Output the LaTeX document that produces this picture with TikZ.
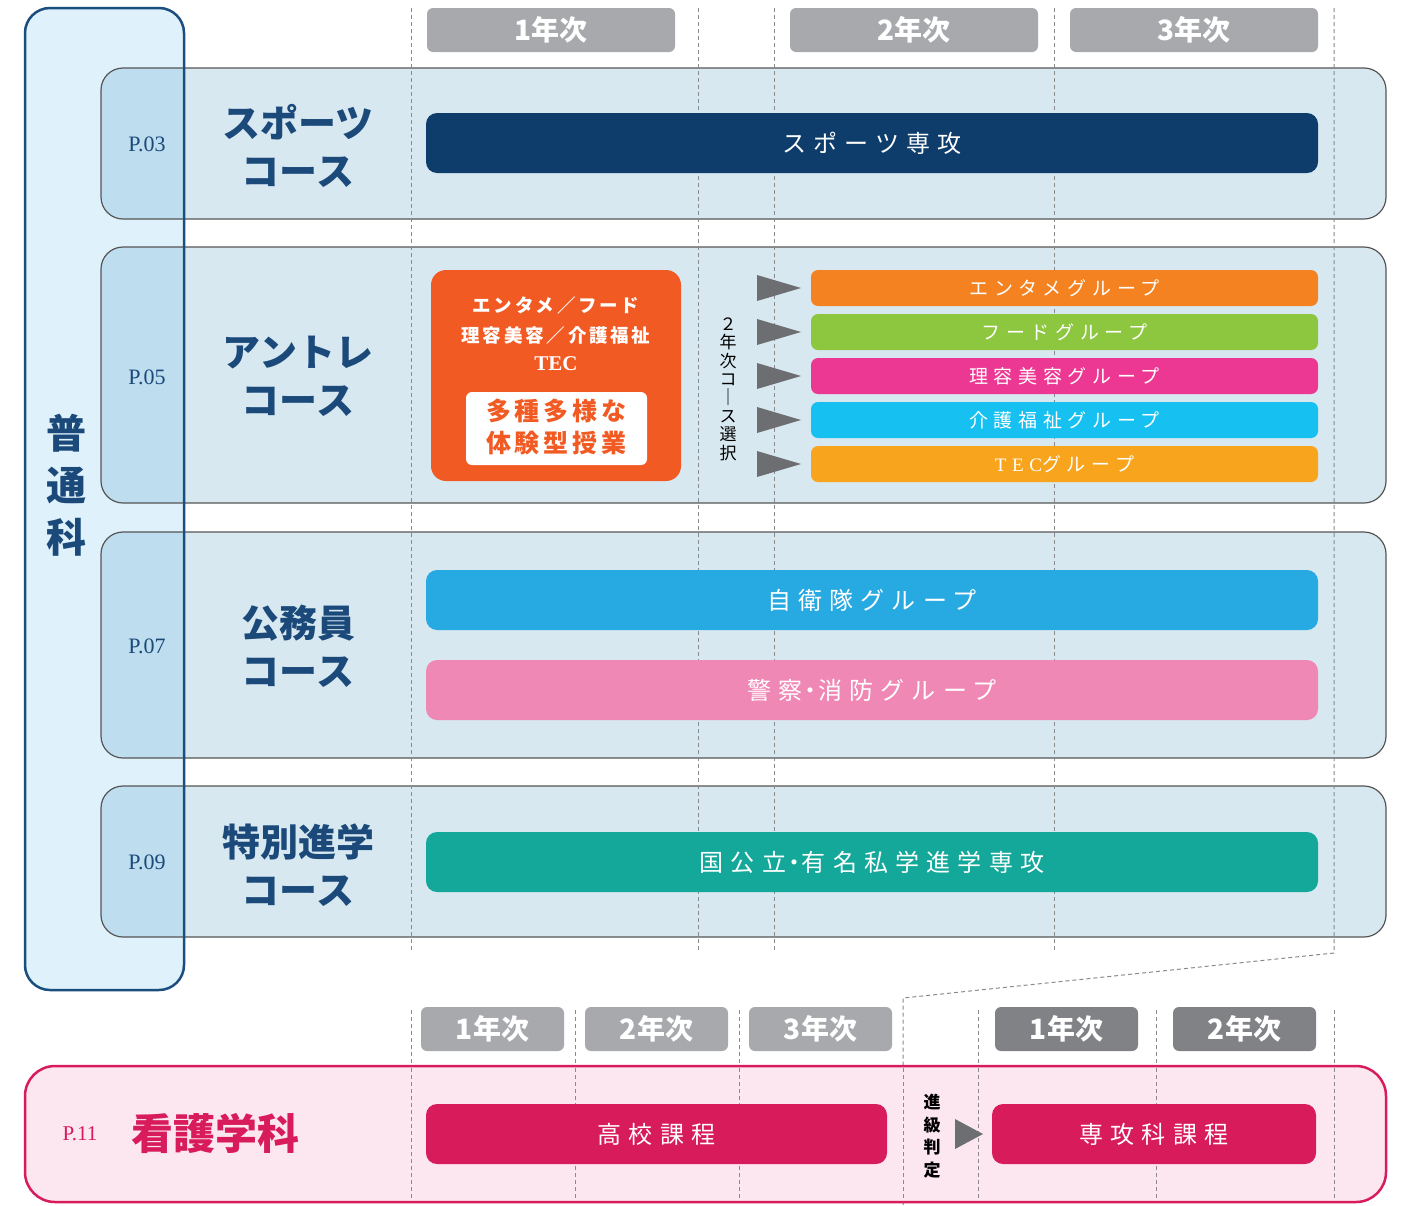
\documentclass[tikz,border=0pt]{standalone}
\usepackage{fontspec}
\setmainfont{Liberation Serif}
\newfontfamily\jp{Noto Sans CJK JP}
\newfontfamily\jpls{Noto Sans CJK JP}[LetterSpace=30]
\newfontfamily\jplsm{Noto Sans CJK JP}[LetterSpace=15]
\newcommand{\nakaguro}{\kern-0.17em・\kern-0.17em}
\definecolor{navy}{HTML}{0E3D6B}
\definecolor{titleblue}{HTML}{1B4A7A}
\definecolor{futsufill}{HTML}{DFF1FA}
\definecolor{futsuline}{HTML}{1A4E7E}
\definecolor{panelfill}{HTML}{D8E8F1}
\definecolor{paneldark}{HTML}{BEDDEE}
\definecolor{panelline}{HTML}{555555}
\definecolor{hdrgray}{HTML}{A7A9AC}
\definecolor{hdrdark}{HTML}{808285}
\definecolor{dashgray}{HTML}{8A8A8A}
\definecolor{arrowgray}{HTML}{6D6E71}
\definecolor{entorange}{HTML}{F15A22}
\definecolor{gEnt}{HTML}{F48221}
\definecolor{gFood}{HTML}{8DC63F}
\definecolor{gBeauty}{HTML}{EC3892}
\definecolor{gCare}{HTML}{16C0F0}
\definecolor{gTec}{HTML}{F8A51D}
\definecolor{gSdf}{HTML}{27A9E1}
\definecolor{gPolice}{HTML}{F088B6}
\definecolor{gTeal}{HTML}{14A89A}
\definecolor{nurse}{HTML}{D81B5B}
\definecolor{nursefill}{HTML}{FCE7F0}
\tikzset{
  panel/.style={draw=panelline, line width=1.2pt, rounded corners=22pt},
  hdr/.style={fill=hdrgray, rounded corners=6pt, text=white, inner sep=0pt,
    font=\jp\bfseries\fontsize{28}{28}\selectfont},
  bar/.style={rounded corners=11pt, text=white, inner sep=0pt,
    font=\jpls\fontsize{24}{24}\selectfont},
  gbar/.style={rounded corners=7pt, text=white, inner sep=0pt, minimum width=507pt, minimum height=36pt,
    font=\jpls\fontsize{19}{19}\selectfont},
  coursetitle/.style={text=titleblue, align=center, inner sep=0pt,
    font=\jp\bfseries\fontsize{38}{48}\selectfont},
  plabel/.style={text=titleblue, inner sep=0pt, font=\fontsize{22}{22}\selectfont},
  gridline/.style={draw=dashgray, line width=1pt, dash pattern=on 4pt off 3pt},
  tri/.style={fill=arrowgray, draw=none},
}
\begin{document}
\begin{tikzpicture}[x=1pt,y=-1pt]
\useasboundingbox (0,0) rectangle (1404,1205);
\fill[white] (0,0) rectangle (1404,1205);

% 普通科 background
\fill[futsufill, rounded corners=25pt] (25,8) rectangle (184,990);

% course panels
\foreach \ya/\yb [count=\i] in {68/219, 247/503, 532/758, 786/937}{
  \fill[panelfill, rounded corners=22pt] (101,\ya) rectangle (1386,\yb);
  \begin{scope}
    \clip (101,\ya) rectangle (184,\yb);
    \fill[paneldark, rounded corners=22pt] (101,\ya) rectangle (1386,\yb);
  \end{scope}
  \draw[panel] (101,\ya) rectangle (1386,\yb);
}

% 普通科 border on top
\draw[futsuline, line width=2.5pt, rounded corners=25pt] (25,8) rectangle (184,990);
\node[text=titleblue, align=center, inner sep=0pt, font=\jp\bfseries\fontsize{40}{52}\selectfont] (futsu) at (66,485) {普\\通\\科};

% grid lines upper
\foreach \x in {411,698,774,1054}{
  \draw[gridline] (\x,8) -- (\x,952);
}
\coordinate (ga) at (1334,8);
\coordinate (gb) at (1334,953);
\coordinate (gc) at (903,998);
\coordinate (gd) at (903,1205);
\draw[gridline] (ga) -- (gb) -- (gc) -- (gd);
\foreach \x in {411,575,739,978,1156,1334}{
  \draw[gridline] (\x,1010) -- (\x,1205);
}

% headers upper
\node[hdr, minimum width=248pt, minimum height=44pt] (h1) at (551,30) {1年次};
\node[hdr, minimum width=248pt, minimum height=44pt] (h2) at (914,30) {2年次};
\node[hdr, minimum width=248pt, minimum height=44pt] (h3) at (1194,30) {3年次};

% P labels and titles
\node[plabel] (p03) at (147,144) {P.03};
\node[plabel] (p05) at (147,377) {P.05};
\node[plabel] (p07) at (147,646) {P.07};
\node[plabel] (p09) at (147,862) {P.09};
\node[coursetitle] (t1) at (298,146) {スポーツ\\コース};
\node[coursetitle] (t2) at (298,376) {アントレ\\コース};
\node[coursetitle] (t3) at (298,646) {公務員\\コース};
\node[coursetitle] (t4) at (298,865) {特別進学\\コース};

% sports bar
\node[bar, fill=navy, minimum width=892pt, minimum height=60pt] (sp) at (872,143) {スポーツ専攻};

% entre orange box
\node[fill=entorange, rounded corners=15pt, minimum width=250pt, minimum height=211pt, inner sep=0pt] (ent) at (556,375.5) {};
\node[text=white, align=center, inner sep=0pt, font=\jplsm\bfseries\fontsize{18.5}{30}\selectfont] (entl) at (556,320) {エンタメ／フード\\理容美容／介護福祉};
\node[text=white, inner sep=0pt, font=\bfseries\fontsize{21}{21}\selectfont] (tec) at (556,364) {TEC};
\node[fill=white, rounded corners=6pt, minimum width=181pt, minimum height=73pt, inner sep=0pt] (wbox) at (556.5,428.5) {};
\node[text=entorange, align=center, inner sep=0pt, font=\jplsm\bfseries\fontsize{25}{32}\selectfont] (wtxt) at (556,427) {多種多様な\\体験型授業};

% vertical text
\node[text=black, align=center, inner sep=0pt, font=\jp\fontsize{17}{18.4}\selectfont] (sel) at (728,389) {２\\年\\次\\コ\\｜\\ス\\選\\択};

% arrows and group bars
\foreach \y/\c/\t [count=\i] in {288/gEnt/エンタメグループ, 332/gFood/フードグループ, 376/gBeauty/理容美容グループ, 420/gCare/介護福祉グループ, 464/gTec/{\fontspec{Liberation Serif}[LetterSpace=30]TEC}グループ}{
  \node[gbar, fill=\c] (g\i) at (1064.5,\y) {\t};
  \fill[tri] (757,\y-13) -- (757,\y+13) -- (801,\y) -- cycle;
}

% koumuin bars
\node[bar, fill=gSdf, minimum width=892pt, minimum height=60pt] (sdf) at (872,600) {自衛隊グループ};
\node[bar, fill=gPolice, minimum width=892pt, minimum height=60pt] (pol) at (872,690) {警察\nakaguro 消防グループ};
% tokushin bar
\node[bar, fill=gTeal, minimum width=892pt, minimum height=60pt] (tok) at (872,862) {国公立\nakaguro 有名私学進学専攻};

% ===== lower section =====
\draw[nurse, fill=nursefill, line width=2.5pt, rounded corners=30pt] (25,1066) rectangle (1386,1202);
\foreach \x in {411,575,739,978,1156,1334}{
  \draw[gridline] (\x,1068) -- (\x,1201);
}
\draw[gridline] (903,1068) -- (903,1201);

\node[hdr, minimum width=143pt, minimum height=44pt] (l1) at (492.5,1029) {1年次};
\node[hdr, minimum width=143pt, minimum height=44pt] (l2) at (656.5,1029) {2年次};
\node[hdr, minimum width=143pt, minimum height=44pt] (l3) at (820.5,1029) {3年次};
\node[hdr, fill=hdrdark, minimum width=143pt, minimum height=44pt] (l4) at (1066.5,1029) {1年次};
\node[hdr, fill=hdrdark, minimum width=143pt, minimum height=44pt] (l5) at (1244.5,1029) {2年次};

\node[text=nurse, inner sep=0pt, font=\fontsize{21}{21}\selectfont] (p11) at (80,1134) {P.11};
\node[text=nurse, inner sep=0pt, font=\jp\bfseries\fontsize{42}{42}\selectfont] (kango) at (215,1133) {看護学科};

\node[bar, fill=nurse, minimum width=461pt, minimum height=60pt] (koukou) at (656.5,1134) {高校課程};
\node[bar, fill=nurse, minimum width=324pt, minimum height=60pt] (senkou) at (1154,1134) {専攻科課程};
\node[text=black, align=center, inner sep=0pt, font=\jp\bfseries\fontsize{17}{22.7}\selectfont] (shinkyu) at (932,1136) {進\\級\\判\\定};
\fill[tri] (955,1119) -- (955,1149) -- (983,1134) -- cycle;
\end{tikzpicture}
\end{document}
